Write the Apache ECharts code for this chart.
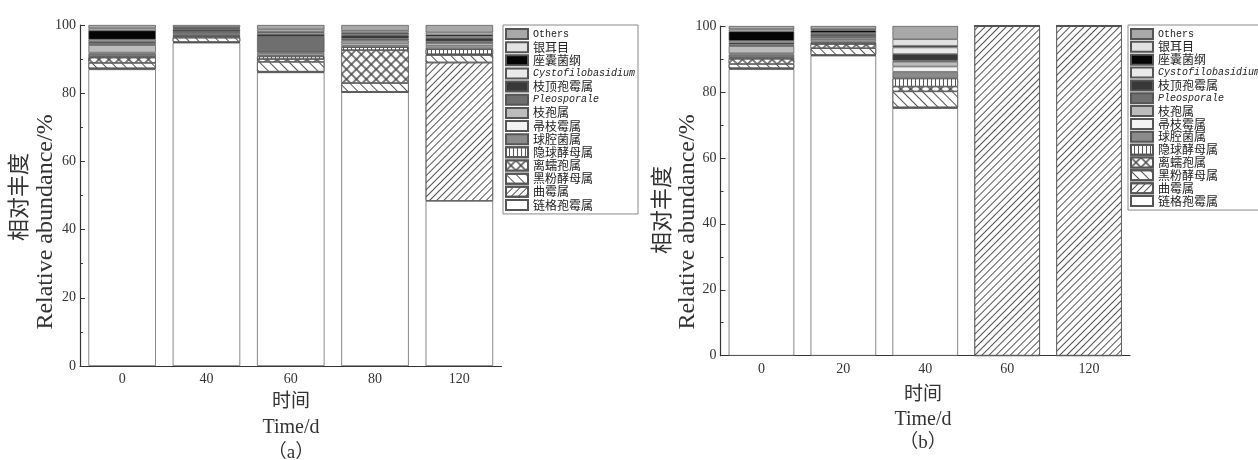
<!DOCTYPE html>
<html><head><meta charset="utf-8">
<script src="https://cdn.jsdelivr.net/npm/echarts@6/dist/echarts.min.js"></script>
<style>html,body{margin:0;padding:0;background:#fff}#c{width:1258px;height:460px}</style>
</head><body><div id="c"></div><script>
// stacking order, bottom to top
const genera = ['链格孢霉属','曲霉属','黑粉酵母属','离蠕孢属','隐球酵母属','球腔菌属','帚枝霉属','枝孢属','Pleosporale','枝顶孢霉属','Cystofilobasidium','座囊菌纲','银耳目','Others'];
const timesA = ['0','40','60','80','120'];
const timesB = ['0','20','40','60','120'];
// chart (a): one array per time point, values follow `genera`
const a0   = [87.0, 0.3, 1.6, 1.5, 0.4, 0.7, 0.4, 2.2, 0.6, 0.5, 0.5, 2.7, 0.6, 1.0];
const a40  = [94.8, 0.2, 1.3, 0.3, 0.3, 0.3, 0.3, 0.3, 0.3, 0.5, 0.3, 0.2, 0.3, 0.6];
const a60  = [86.1, 0.2, 2.9, 0.8, 0.8, 0.3, 0.5, 0.4, 4.5, 0.8, 0.5, 0.3, 0.6, 1.3];
const a80  = [80.3, 0.1, 2.6, 9.6, 0.9, 0.5, 0.6, 0.8, 0.6, 1.0, 0.4, 0.4, 0.5, 1.7];
const a120 = [48.4, 40.6, 2.2, 0.2, 1.5, 0.5, 0.5, 0.8, 0.5, 1.0, 0.5, 0.5, 0.6, 2.2];
// chart (b)
const b0   = [86.9, 0.3, 1.3, 1.5, 0.5, 0.8, 0.4, 2.2, 0.5, 0.6, 0.5, 2.9, 0.6, 1.0];
const b20  = [91.0, 0.2, 2.1, 1.2, 0.4, 0.4, 0.5, 0.6, 0.5, 0.6, 0.4, 0.8, 0.3, 1.0];
const b40  = [75.1, 0.2, 4.9, 1.4, 2.5, 2.0, 1.6, 1.5, 0.3, 2.0, 2.0, 0.5, 2.0, 4.0];
const b60  = [0, 100, 0, 0, 0, 0, 0, 0, 0, 0, 0, 0, 0, 0];
const b120 = [0, 100, 0, 0, 0, 0, 0, 0, 0, 0, 0, 0, 0, 0];
const barsA = [a0, a40, a60, a80, a120];
const barsB = [b0, b20, b40, b60, b120];

const fills = {'Others':'#a8a8a8','银耳目':'#e2e2e2','座囊菌纲':'#050505','Cystofilobasidium':'#e9e9e9','枝顶孢霉属':'#383838','Pleosporale':'#6f6f6f','枝孢属':'#bcbcbc','帚枝霉属':'#f3f3f3','球腔菌属':'#8b8b8b','隐球酵母属':'#ffffff','离蠕孢属':'#ffffff','黑粉酵母属':'#ffffff','曲霉属':'#ffffff','链格孢霉属':'#ffffff'};
const decals = {
  '隐球酵母属': {symbol:'rect', symbolSize:1, color:'#555', dashArrayX:[1,0], dashArrayY:[1,3], rotation:Math.PI/2},
  '离蠕孢属': {symbol:'rect', symbolSize:0.8, color:'#ffffff', backgroundColor:'#444', dashArrayX:[7,0], dashArrayY:[7,0], rotation:Math.PI/4},
  '黑粉酵母属': {symbol:'rect', symbolSize:1, color:'#555', dashArrayX:[1,0], dashArrayY:[1,6], rotation:Math.PI/4},
  '曲霉属': {symbol:'rect', symbolSize:1, color:'#555', dashArrayX:[1,0], dashArrayY:[1,4], rotation:-Math.PI/4}
};
const serif = 'Liberation Serif, "Noto Sans CJK SC", serif';

function makeSeries(bars, axisIdx, stack){
  return genera.map((g, i) => ({
    name: g, type: 'bar', stack: stack,
    xAxisIndex: axisIdx, yAxisIndex: axisIdx === 0 ? 0 : 1,
    barCategoryGap: '20%',
    data: bars.map(b => b[i]),
    itemStyle: Object.assign({color: fills[g], borderColor: '#555', borderWidth: 0.7},
      decals[g] ? {decal: decals[g]} : {}),
    emphasis: {disabled: true},
    silent: true
  }));
}

function xAxes(data, grid, margin){
  return [
    {type:'category', gridIndex:grid, data:data,
     axisLine:{lineStyle:{color:'#333', width:1.2}},
     axisTick:{alignWithLabel:true, inside:true, length:5, lineStyle:{color:'#333'}},
     axisLabel:{fontSize:14, fontFamily:serif, color:'#333', margin:margin}},
    {type:'category', gridIndex:grid, data:data,
     axisLine:{show:false},
     axisTick:{inside:true, length:2.5, lineStyle:{color:'#333'}},
     axisLabel:{show:false}}
  ];
}
function yAxis(grid){
  return {type:'value', gridIndex:grid, min:0, max:100, interval:20,
    axisLine:{show:true, lineStyle:{color:'#333', width:1.2}},
    axisTick:{show:true, inside:true, length:5, lineStyle:{color:'#333'}},
    minorTick:{show:true, splitNumber:2, length:3, lineStyle:{color:'#333'}},
    splitLine:{show:false},
    axisLabel:{fontSize:14, fontFamily:serif, color:'#333', margin:4}};
}

const legendNames = genera.slice().reverse();
function legendFormatter(name){
  if (name === 'Others') return '{m|' + name + '}';
  if (name === 'Cystofilobasidium' || name === 'Pleosporale') return '{i|' + name + '}';
  return name;
}
function legend(left, gap){
  return {left:left, top:25, orient:'vertical', data:legendNames, icon:'rect',
    itemWidth:22, itemHeight:10, itemGap:gap, padding:[3,3,3,2],
    borderColor:'#888', borderWidth:1, selectedMode:false,
    formatter: legendFormatter,
    textStyle:{fontSize:12, lineHeight:12, fontFamily:'"Noto Sans CJK SC", sans-serif', color:'#222',
      rich:{m:{fontFamily:'Liberation Mono, monospace', fontSize:10, lineHeight:12},
            i:{fontFamily:'Liberation Mono, monospace', fontStyle:'italic', fontSize:10, lineHeight:12}}}};
}

function txt(x, y, text, size, rot){
  return {type:'text', x:x, y:y, rotation: rot || 0, silent:true,
    style:{text:text, fontSize:size, fontFamily:serif, fill:'#333', textAlign:'center', textVerticalAlign:'middle'}};
}

const chart = echarts.init(document.getElementById('c'));
chart.setOption({
  animation:false,
  backgroundColor:'#fff',
  grid:[{left:80, top:25, width:421.5, height:341},
        {left:720.5, top:26, width:409.5, height:329.7}],
  xAxis: xAxes(timesA, 0, 6).concat(xAxes(timesB, 1, 7)),
  yAxis: [yAxis(0), yAxis(1)],
  legend: [legend(503, 1.15), legend(1128, 0.85)],
  series: makeSeries(barsA, 0, 'a').concat(makeSeries(barsB, 2, 'b')),
  graphic: [
    txt(291, 402, '时间', 19), txt(291, 428, 'Time/d', 20), txt(291, 453, '（a）', 19),
    txt(923, 395, '时间', 19), txt(923, 420, 'Time/d', 20), txt(923, 443, '（b）', 19),
    txt(20, 197, '相对丰度', 22, Math.PI/2), txt(46, 222, 'Relative abundance/%', 24, Math.PI/2),
    txt(663, 210, '相对丰度', 22, Math.PI/2), txt(688, 222, 'Relative abundance/%', 24, Math.PI/2)
  ]
});
</script></body></html>
